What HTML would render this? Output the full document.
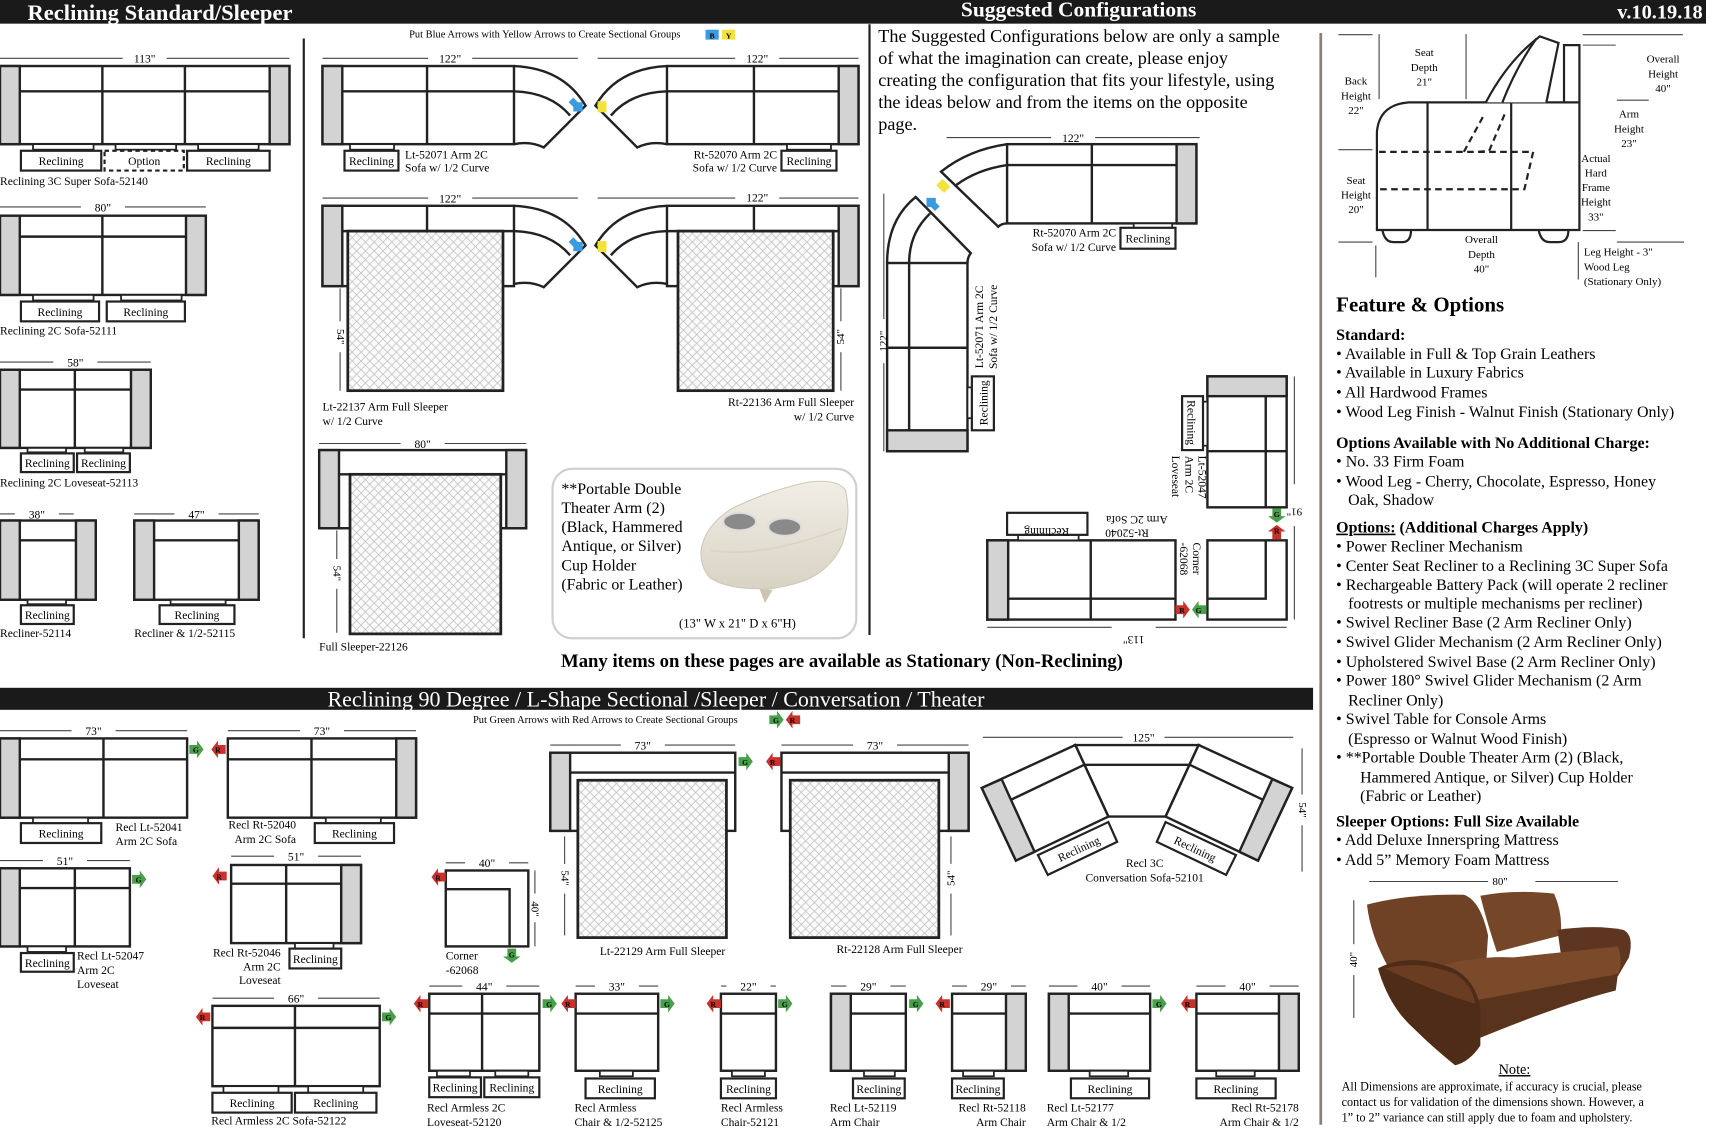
<!DOCTYPE html>
<html><head><meta charset="utf-8"><style>
html,body{margin:0;padding:0;background:#fff;}
svg{display:block;font-family:"Liberation Serif",serif;}
</style></head><body>
<svg id="s" width="1717" height="1128" viewBox="0 0 1560 1025" preserveAspectRatio="none" xmlns="http://www.w3.org/2000/svg">
<defs>
<pattern id="hx" width="8" height="8" patternUnits="userSpaceOnUse">
<rect width="8" height="8" fill="#fbfbfb"/>
<path d="M0,0L8,8M8,0L0,8" stroke="#bdbdbd" stroke-width="0.7"/>
</pattern>
<linearGradient id="cr" x1="0" y1="0" x2="0" y2="1"><stop offset="0" stop-color="#f1eee6"/><stop offset="1" stop-color="#d8d3c4"/></linearGradient>
<linearGradient id="br" x1="0" y1="0" x2="0" y2="1"><stop offset="0" stop-color="#7e4d2c"/><stop offset="1" stop-color="#4e2c17"/></linearGradient>
</defs>
<g id="g"></g>
</svg>
<script>
var o=[];
function R(x,y,w,h,f,sw,ex){o.push('<rect x="'+x+'" y="'+y+'" width="'+w+'" height="'+h+'" fill="'+(f||'none')+'" stroke="#222" stroke-width="'+(sw==null?2.2:sw)+'" '+(ex||'')+'/>');}
function L(a,b,c,d,sw,col,ex){o.push('<line x1="'+a+'" y1="'+b+'" x2="'+c+'" y2="'+d+'" stroke="'+(col||'#222')+'" stroke-width="'+(sw||2.2)+'" '+(ex||'')+'/>');}
function T(x,y,s,sz,an,ex){o.push('<text x="'+x+'" y="'+y+'" font-size="'+(sz||10)+'" text-anchor="'+(an||'start')+'" '+(ex||'')+'>'+s+'</text>');}
function P(d,f,sw,ex){o.push('<path d="'+d+'" fill="'+(f||'none')+'" stroke="#222" stroke-width="'+(sw==null?2.2:sw)+'" '+(ex||'')+'/>');}
function dimH(x1,x2,y,t){var c=(x1+x2)/2;L(x1,y,c-20,y,1,'#444');L(c+20,y,x2,y,1,'#444');T(c,y+4,t,10.5,'middle');}
function lab(x,y,w,h,t,d){R(x,y,w,h,'#fff',2,d?'stroke-dasharray="4,3"':'');T(x+w/2,y+h/2+4,t,10.5,'middle');}
function tab(x,y,w,h){R(x,y,w,h,'#fff',1.6);}
function sofa(x,y,w,h,la,ra,back,divs){R(x,y,w,h,'#fff');var a=18;if(la)R(x,y,a,h,'#d3d3d3');if(ra)R(x+w-a,y,a,h,'#d3d3d3');var ix=la?x+a:x,iw=x+w-(ra?a:0);if(back)L(ix,back,iw,back);(divs||[]).forEach(function(d){L(d,y,d,y+h);});}
function mat(x,y,w,h){R(x,y,w,h,'url(#hx)',2.5);}
function arr(x,y,col,dir,ch){var d;if(dir=='r')d='M'+x+','+(y-4)+'h7v-4l6,8l-6,8v-4h-7z';else if(dir=='l')d='M'+(x+13)+','+(y-4)+'h-7v-4l-6,8l6,8v-4h7z';else if(dir=='d')d='M'+(x-4)+','+y+'v7h-4l8,6l8,-6h-4v-7z';else d='M'+(x-4)+','+(y+13)+'v-7h-4l8,-6l8,6h-4v7z';o.push('<path d="'+d+'" fill="'+col+'"/>');var cx=dir=='r'||dir=='l'?x+6:x,cy=dir=='r'||dir=='l'?y+3:y+8;o.push('<text x="'+cx+'" y="'+cy+'" font-size="7" font-weight="bold" text-anchor="middle">'+ch+'</text>');}

// header
o.push('<rect x="0" y="0" width="1550" height="21.5" fill="#1a1a1a"/>');
T(25,18,'Reclining Standard/Sleeper',20.5,'start','fill="#fff" font-weight="bold"');
T(980,15,'Suggested Configurations',19.5,'middle','fill="#fff" font-weight="bold"');
T(1547,17,'v.10.19.18',18.5,'end','fill="#fff" font-weight="bold"');
T(495,34,'Put Blue Arrows with Yellow Arrows to Create Sectional Groups',9.5,'middle');
o.push('<rect x="641" y="27" width="12" height="9" fill="#3b9be0"/><rect x="656" y="27" width="12" height="9" fill="#f3e23a"/>');
T(647,35,'B',7,'middle','font-weight="bold"');T(662,35,'Y',7,'middle','font-weight="bold"');
L(276,35,276,580,2,'#222');L(790,22,790,577,2,'#222');L(1200,30,1200,1022,2.5,'#8a8078');

// left column
dimH(0,263,53,'113"');sofa(0,60,263,71,1,1,83,[93,168]);
tab(30,131,55,5);tab(105,131,55,5);tab(180,131,55,5);
lab(19,137,73,18,'Reclining');lab(95,137,72,18,'Option',1);lab(170,137,75,18,'Reclining');
T(0,168,'Reclining 3C Super Sofa-52140',10.5);
dimH(0,187,188,'80"');sofa(0,196,187,72,1,1,215,[93]);
tab(30,268,55,5);tab(110,268,55,5);
lab(19,274,71,18,'Reclining');lab(97,274,71,18,'Reclining');
T(0,304,'Reclining 2C Sofa-52111',10.5);
dimH(0,137,329,'58"');sofa(0,336,137,71,1,1,354,[68]);
tab(25,407,35,4);tab(77,407,35,4);
lab(19,412,48,17,'Reclining');lab(70,412,48,17,'Reclining');
T(0,442,'Reclining 2C Loveseat-52113',10.5);
dimH(0,67,467,'38"');sofa(0,473,87,72,1,1,491,[]);tab(25,545,35,4);lab(19,550,48,17,'Reclining');T(0,579,'Recliner-52114',10.5);
dimH(122,235,467,'47"');sofa(122,473,113,72,1,1,491,[]);tab(155,545,50,4);lab(145,550,68,17,'Reclining');T(122,579,'Recliner &amp; 1/2-52115',10.5);

// middle column
function curveL(y){P('M467,'+y+' Q512,'+(y+2)+' 532,'+(y+36)+' L494,'+(y+74)+' Q482,'+(y+68)+' 467,'+(y+71));P('M467,'+(y+23)+' Q500,'+(y+24)+' 518,'+(y+45));}
dimH(293,525,53,'122"');sofa(293,60,174,71,1,0,83,[388]);curveL(60);
tab(318,131,40,5);lab(313,137,49,18,'Reclining');T(368,144,'Lt-52071 Arm 2C',10.5);T(368,156,'Sofa w/ 1/2 Curve',10.5);
o.push('<g transform="translate(1073,0) scale(-1,1)">');sofa(293,60,174,71,1,0,83,[388]);curveL(60);o.push('</g>');
L(543,53,668,53,1,'#444');L(708,53,780,53,1,'#444');T(688,57,'122"',10.5,'middle');
tab(715,131,40,5);lab(710,137,50,18,'Reclining');T(706,144,'Rt-52070 Arm 2C',10.5,'end');T(706,156,'Sofa w/ 1/2 Curve',10.5,'end');
function ba(x,y){o.push('<path d="M'+x+','+y+'l6,-6l6,6l-3,3l0,6h-6l0,-6z" fill="#3b9be0" transform="rotate(135 '+(x+6)+' '+(y+3)+')"/>');}
function ya(x,y){o.push('<rect x="'+x+'" y="'+y+'" width="8" height="10" fill="#f3e23a"/>');}
ba(517,92);ya(543,92);
dimH(293,525,180,'122"');sofa(293,187,174,73,1,0,210,[388]);curveL(187);mat(316,210,141,145);
L(309,262,309,292,1,'#444');L(309,320,309,355,1,'#444');T(309,306,'54"',10,'middle','transform="rotate(90 309 306)" dy="3"');
T(293,373,'Lt-22137 Arm Full Sleeper',10.5);T(293,386,'w/ 1/2 Curve',10.5);
o.push('<g transform="translate(1073,0) scale(-1,1)">');sofa(293,187,174,73,1,0,210,[388]);curveL(187);mat(316,210,141,145);o.push('</g>');
L(543,180,668,180,1,'#444');L(708,180,780,180,1,'#444');T(688,183,'122"',10.5,'middle');ba(517,219);ya(543,219);
L(764,262,764,292,1,'#444');L(764,320,764,355,1,'#444');T(764,306,'54"',10,'middle','transform="rotate(-90 764 306)" dy="3"');
T(776,369,'Rt-22136 Arm Full Sleeper',10.5,'end');T(776,382,'w/ 1/2 Curve',10.5,'end');
dimH(290,478,403,'80"');sofa(290,409,188,71,1,1,431,[]);mat(318,431,137,145);
L(306,482,306,508,1,'#444');L(306,535,306,575,1,'#444');T(306,521,'54"',10,'middle','transform="rotate(90 306 521)" dy="3"');
T(290,591,'Full Sleeper-22126',10.5);
// theater arm
o.push('<rect x="502" y="426" width="276" height="154" rx="18" fill="#fff" stroke="#cfcfcf" stroke-width="2"/>');
['**Portable Double','Theater Arm (2)','(Black, Hammered','Antique, or Silver)','Cup Holder','(Fabric or Leather)'].forEach(function(t,i){T(510,449+i*17.3,t,14.5);});
T(670,570,'(13" W x 21" D x 6"H)',11.5,'middle');
o.push('<path d="M637,500 Q640,478 665,462 Q700,445 735,438 Q760,435 768,445 Q774,470 765,495 Q755,518 730,528 Q705,536 690,535 Q660,535 645,525 Q636,515 637,500 Z" fill="url(#cr)" stroke="#cfc9b8"/>');
o.push('<path d="M690,535 L695,548 L702,536" fill="#cbc5b3"/>');
o.push('<path d="M645,500 Q690,508 765,480" fill="none" stroke="#d9d4c6" stroke-width="1.5"/>');
o.push('<ellipse cx="672" cy="474" rx="15" ry="8" fill="#8a8a8a" stroke="#ddd" stroke-width="2"/><ellipse cx="713" cy="479" rx="15" ry="8" fill="#8a8a8a" stroke="#ddd" stroke-width="2"/>');

['The Suggested Configurations below are only a sample','of what the imagination can create, please enjoy','creating the configuration that fits your lifestyle, using','the ideas below and from the items on the opposite','page.'].forEach(function(t,i){T(798,38+i*20,t,16.5);});
dimH(860,1090,125,'122"');
sofa(915,131,172,72,0,1,150,[992]);
P('M915,131 Q880,136 855,156 L907,206 Q910,203 915,203');P('M915,150 Q888,154 869,168');
tab(1030,203,35,5);lab(1018,207,50,19,'Reclining');T(1014,215,'Rt-52070 Arm 2C',10.5,'end');T(1014,228,'Sofa w/ 1/2 Curve',10.5,'end');
R(806,239,73,171,'#fff');R(806,391,73,19,'#d3d3d3');L(826,239,826,391);L(806,316,879,316);
P('M806,239 Q806,200 832,179 L882,230 Q879,234 879,239');P('M826,239 Q826,212 845,194');
o.push('<path d="M840,184l6,-6l6,6l-3,3v5h-6v-5z" fill="#3b9be0" transform="rotate(-45 846 184)"/>');o.push('<rect x="853" y="164" width="8" height="10" fill="#f3e23a" transform="rotate(-45 857 169)"/>');
tab(879,352,4,28);R(883,342,20,49,'#fff',2);T(893,366,'Reclining',10.5,'middle','transform="rotate(-90 893 366)" dy="4"');
T(893,297,'Lt-52071 Arm 2C',10.5,'middle','transform="rotate(-90 893 297)"');T(906,297,'Sofa w/ 1/2 Curve',10.5,'middle','transform="rotate(-90 906 297)"');
L(803,176,803,290,1,'#444');L(803,330,803,410,1,'#444');T(803,310,'122"',10,'middle','transform="rotate(-90 803 310)" dy="3"');
R(1097,342,72,119,'#fff');R(1097,342,72,18,'#d3d3d3');L(1150,360,1150,461);L(1097,410,1169,410);
tab(1093,365,4,40);R(1074,360,19,49,'#fff',2);T(1083,384,'Reclining',10.5,'middle','transform="rotate(90 1083 384)" dy="4"');
T(1089,414,'Lt-52047',10.5,'start','transform="rotate(90 1089 414)"');T(1077,414,'Arm 2C',10.5,'start','transform="rotate(90 1077 414)"');T(1065,414,'Loveseat',10.5,'start','transform="rotate(90 1065 414)"');
R(1097,491,72,72,'#fff');P('M1150,491 L1150,544 L1097,544');
R(897,491,171,72,'#fff');R(897,491,19,72,'#d3d3d3');L(916,544,1068,544);L(991,491,991,563);
tab(925,486,55,5);lab(915,466,73,20,'');T(951,476,'Reclining',10.5,'middle','transform="rotate(180 951 476)" dy="-4"');
T(1024,481,'Rt-52040',10.5,'middle','transform="rotate(180 1024 481)"');T(1033,469,'Arm 2C Sofa',10.5,'middle','transform="rotate(180 1033 469)"');
T(1084,493,'Corner',10.5,'start','transform="rotate(90 1084 493)"');T(1072,493,'-62068',10.5,'start','transform="rotate(90 1072 493)"');
arr(1160,462,'#4aa04a','d','G');arr(1160,477,'#c8322a','u','R');arr(1068,554,'#c8322a','r','R');arr(1083,554,'#4aa04a','l','G');
L(1176,342,1176,440,1,'#444');L(1176,478,1176,563,1,'#444');T(1176,459,'91"',10,'middle','transform="rotate(180 1176 459)" dy="-3"');
L(897,570,1010,570,1,'#444');L(1050,570,1169,570,1,'#444');T(1030,566,'113"',10.5,'middle','transform="rotate(180 1030 570)" dy="-4"');

T(765,606,'Many items on these pages are available as Stationary (Non-Reclining)',17,'middle','font-weight="bold"');
o.push('<rect x="0" y="625" width="1193" height="20" fill="#1a1a1a"/>');
T(596,642,'Reclining 90 Degree / L-Shape Sectional /Sleeper / Conversation / Theater',20,'middle','fill="#fff"');
T(550,657,'Put Green Arrows with Red Arrows to Create Sectional Groups',9.5,'middle');
arr(699,654,'#4aa04a','r','G');arr(714,654,'#c8322a','l','R');

dimH(0,170,664,'73"');sofa(0,671,170,72,1,0,690,[94]);arr(172,681,'#4aa04a','r','G');tab(30,743,50,5);lab(19,748,73,18,'Reclining');T(105,755,'Recl Lt-52041',10.5);T(105,768,'Arm 2C Sofa',10.5);
dimH(207,378,664,'73"');sofa(207,671,171,72,0,1,690,[283]);arr(192,681,'#c8322a','l','R');tab(296,743,50,5);lab(286,748,72,18,'Reclining');T(269,753,'Recl Rt-52040',10.5,'end');T(269,766,'Arm 2C Sofa',10.5,'end');
dimH(0,118,782,'51"');sofa(0,789,118,71,1,0,807,[68]);arr(120,799,'#4aa04a','r','G');tab(25,860,35,5);lab(19,866,48,17,'Reclining');T(70,872,'Recl Lt-52047',10.5);T(70,885,'Arm 2C',10.5);T(70,898,'Loveseat',10.5);
dimH(210,328,778,'51"');sofa(210,786,118,71,0,1,803,[260]);arr(193,796,'#c8322a','l','R');tab(268,857,35,5);lab(263,862,47,18,'Reclining');T(255,869,'Recl Rt-52046',10.5,'end');T(255,882,'Arm 2C',10.5,'end');T(255,894,'Loveseat',10.5,'end');
dimH(405,480,784,'40"');R(405,791,75,69,'#fff');P('M463,860 L463,808 L405,808');arr(392,797,'#c8322a','l','R');arr(465,862,'#4aa04a','d','G');
L(486,791,486,812,1,'#444');L(486,838,486,860,1,'#444');T(486,826,'40"',10,'middle','transform="rotate(90 486 826)" dy="3"');T(405,872,'Corner',10.5);T(405,885,'-62068',10.5);
dimH(500,668,677,'73"');sofa(500,684,168,71,1,0,702,[]);mat(525,709,135,143);arr(671,692,'#4aa04a','r','G');
L(513,760,513,785,1,'#444');L(513,812,513,850,1,'#444');T(513,798,'54"',10,'middle','transform="rotate(90 513 798)" dy="3"');T(545,868,'Lt-22129 Arm Full Sleeper',10.5);
dimH(710,880,677,'73"');sofa(710,684,170,71,0,1,702,[]);mat(718,709,135,143);arr(696,692,'#c8322a','l','R');
L(864,760,864,785,1,'#444');L(864,812,864,850,1,'#444');T(864,798,'54"',10,'middle','transform="rotate(-90 864 798)" dy="3"');T(760,866,'Rt-22128 Arm Full Sleeper',10.5);
L(893,670,1020,670,1,'#444');L(1058,670,1175,670,1,'#444');T(1039,674,'125"',10.5,'middle');
P('M977,677 L1089,677 L1059,742 L1007,742 Z','#fff');L(985,695,1081,695);
P('M977,677 L892,716 L923,782 L1007,742 Z','#fff');P('M892,716 L910,708 L940,774 L923,782 Z','#d3d3d3');L(918,727,985,695);
P('M1089,677 L1174,716 L1143,782 L1059,742 Z','#fff');P('M1174,716 L1156,708 L1126,774 L1143,782 Z','#d3d3d3');L(1148,727,1081,695);
P('M943,777 L1007,747 L1015,765 L952,795 Z','#fff',2);T(980,775,'Reclining',10.5,'middle','transform="rotate(-25 980 771)"');
P('M1123,777 L1059,747 L1051,765 L1114,795 Z','#fff',2);T(1086,775,'Reclining',10.5,'middle','transform="rotate(25 1086 771)"');
T(1040,788,'Recl 3C',10.5,'middle');T(1040,801,'Conversation Sofa-52101',10.5,'middle');
L(1183,680,1183,722,1,'#444');L(1183,750,1183,792,1,'#444');T(1183,736,'54"',10,'middle','transform="rotate(90 1183 736)" dy="3"');
dimH(193,345,907,'66"');sofa(193,914,152,73,0,0,934,[268]);arr(178,924,'#c8322a','l','R');arr(347,924,'#4aa04a','r','G');tab(203,987,50,6);tab(280,987,50,6);lab(193,993,72,18,'Reclining');lab(268,993,74,18,'Reclining');T(192,1022,'Recl Armless 2C Sofa-52122',10.5);
dimH(390,490,896,'44"');sofa(390,903,100,70,0,0,921,[438]);arr(376,912,'#c8322a','l','R');arr(493,912,'#4aa04a','r','G');tab(397,973,30,5);tab(450,973,30,5);lab(390,979,47,18,'Reclining');lab(440,979,50,18,'Reclining');T(388,1010,'Recl Armless 2C',10.5);T(388,1023,'Loveseat-52120',10.5);
dimH(523,598,896,'33"');sofa(523,903,75,70,0,0,921,[]);arr(510,912,'#c8322a','l','R');arr(600,912,'#4aa04a','r','G');tab(545,973,30,5);lab(532,980,63,18,'Reclining');T(522,1010,'Recl Armless',10.5);T(522,1023,'Chair &amp; 1/2-52125',10.5);
dimH(655,705,896,'22"');sofa(655,903,50,70,0,0,921,[]);arr(642,912,'#c8322a','l','R');arr(707,912,'#4aa04a','r','G');tab(665,973,30,5);lab(655,980,50,18,'Reclining');T(655,1010,'Recl Armless',10.5);T(655,1023,'Chair-52121',10.5);
dimH(755,823,896,'29"');sofa(755,903,68,70,1,0,921,[]);arr(826,912,'#4aa04a','r','G');tab(785,973,28,5);lab(775,980,47,18,'Reclining');T(754,1010,'Recl Lt-52119',10.5);T(754,1023,'Arm Chair',10.5);
dimH(865,932,896,'29"');sofa(865,903,67,70,0,1,921,[]);arr(850,912,'#c8322a','l','R');tab(875,973,28,5);lab(865,980,47,18,'Reclining');T(932,1010,'Recl Rt-52118',10.5,'end');T(932,1023,'Arm Chair',10.5,'end');
dimH(953,1045,896,'40"');sofa(953,903,92,70,1,0,921,[]);arr(1047,912,'#4aa04a','r','G');tab(990,973,35,5);lab(973,980,71,18,'Reclining');T(951,1010,'Recl Lt-52177',10.5);T(951,1023,'Arm Chair &amp; 1/2',10.5);
dimH(1087,1180,896,'40"');sofa(1087,903,93,70,0,1,921,[]);arr(1073,912,'#c8322a','l','R');tab(1105,973,35,5);lab(1087,980,72,18,'Reclining');T(1180,1010,'Recl Rt-52178',10.5,'end');T(1180,1023,'Arm Chair &amp; 1/2',10.5,'end');

// profile
P('M1251,209 L1251,120 Q1253,95 1280,93 L1435,93 L1435,209 Z','#fff',2);
L(1297,93,1297,209,2);L(1373,93,1373,209,2);
P('M1350,93 Q1370,55 1399,33 L1416,39 L1405,93','#fff',2);P('M1365,93 Q1378,60 1396,35',null,2);
P('M1421,93 L1421,41 L1435,41 L1435,93',null,2);
P('M1256,209 Q1258,220 1266,220 L1274,220 Q1282,220 1282,209',null,2);P('M1398,209 Q1400,220 1408,220 L1416,220 Q1425,220 1425,209',null,2);
P('M1253,138 L1393,138 L1385,172 L1253,172',null,2,'stroke-dasharray="6,4"');
P('M1343,138 L1353,137 L1367,104 M1330,138 L1348,105',null,2,'stroke-dasharray="6,4"');
[[1216,31.5,1247,31.5],[1216,136,1247,136],[1216,220,1247,220],[1438,31.5,1529,31.5],[1438,41,1468,41],[1469,91,1498,91],[1438,209.5,1468,209.5],[1469,220,1530,220]].forEach(function(a){L(a[0],a[1],a[2],a[3],1,'#444');});
[[1253,31,1253,90],[1332,31,1332,90],[1250,223,1250,252],[1434,220,1434,254]].forEach(function(a){L(a[0],a[1],a[2],a[3],1,'#444');});
function ml(x,y,arr){arr.forEach(function(t,i){T(x,y+i*13.3,t,10,'middle');});}
ml(1232,77,['Back','Height','22"']);ml(1294,51,['Seat','Depth','21"']);ml(1511,57,['Overall','Height','40"']);ml(1480,107,['Arm','Height','23"']);
ml(1232,167,['Seat','Height','20"']);ml(1450,147,['Actual','Hard','Frame','Height','33"']);ml(1346,221,['Overall','Depth','40"']);
T(1439,232,'Leg Height - 3"',10);T(1439,246,'Wood Leg',10);T(1439,259,'(Stationary Only)',10);

T(1214,283,'Feature &amp; Options',19,'start','font-weight="bold"');
var F=[[309,'Standard:',1],[326,'• Available in Full &amp; Top Grain Leathers'],[343,'• Available in Luxury Fabrics'],[361,'• All Hardwood Frames'],[379,'• Wood Leg Finish - Walnut Finish (Stationary Only)'],
[407,'Options Available with No Additional Charge:',1],[424,'• No. 33 Firm Foam'],[442,'• Wood Leg - Cherry, Chocolate, Espresso, Honey'],[459,'   Oak, Shadow'],
[484,'<tspan text-decoration="underline">Options:</tspan> (Additional Charges Apply)',1],[501,'• Power Recliner Mechanism'],[519,'• Center Seat Recliner to a Reclining 3C Super Sofa'],[536,'• Rechargeable Battery Pack (will operate 2 recliner'],[553,'   footrests or multiple mechanisms per recliner)'],[570,'• Swivel Recliner Base (2 Arm Recliner Only)'],[588,'• Swivel Glider Mechanism (2 Arm Recliner Only)'],[606,'• Upholstered Swivel Base (2 Arm Recliner Only)'],[623,'• Power 180° Swivel Glider Mechanism (2 Arm'],[641,'   Recliner Only)'],[658,'• Swivel Table for Console Arms'],[676,'   (Espresso or Walnut Wood Finish)'],[693,'• **Portable Double Theater Arm (2) (Black,'],[711,'      Hammered Antique, or Silver) Cup Holder'],[728,'      (Fabric or Leather)'],
[751,'Sleeper Options: Full Size Available',1],[768,'• Add Deluxe Innerspring Mattress'],[786,'• Add 5” Memory Foam Mattress']];
F.forEach(function(f){T(1214,f[0],f[1],14.5,'start',(f[2]?'font-weight="bold"':'')+' xml:space="preserve"');});
// couch photo
L(1244,801,1352,801,1,'#444');L(1395,801,1470,801,1,'#444');T(1363,804,'80"',10,'middle');
L(1230,818,1230,858,1,'#444');L(1230,886,1230,925,1,'#444');T(1230,872,'40"',10,'middle','transform="rotate(-90 1230 872)" dy="3"');
// back cushions
o.push('<path d="M1242,822 Q1280,812 1330,813 Q1345,818 1352,850 L1350,880 L1262,880 Q1245,850 1242,822 Z" fill="#6f4125"/>');
o.push('<path d="M1345,814 Q1375,808 1412,812 Q1420,830 1418,850 L1360,865 Q1350,835 1345,814 Z" fill="#764628"/>');
// right arm
o.push('<path d="M1415,845 Q1450,840 1475,845 Q1485,850 1480,870 L1470,887 L1420,880 Z" fill="#5e3520"/>');
// seat cushions
o.push('<path d="M1300,880 Q1340,868 1375,870 L1470,860 Q1475,875 1470,885 L1370,905 L1335,910 Q1310,900 1300,880 Z" fill="#7a4a2a"/>');
// front panel
o.push('<path d="M1335,910 L1470,885 L1468,900 Q1420,912 1340,945 Z" fill="#5a331c"/>');
// left arm
o.push('<path d="M1252,880 Q1280,865 1320,880 Q1340,890 1345,915 L1345,950 Q1335,965 1322,968 Q1300,950 1285,935 Q1262,915 1252,880 Z" fill="#4f2c17"/>');
o.push('<path d="M1258,880 Q1290,872 1322,885 Q1338,895 1340,912 Q1300,900 1258,880 Z" fill="#6a3d22"/>');
T(1376,976,'Note:',13,'middle','text-decoration="underline"');
T(1219,991,'All Dimensions are approximate, if accuracy is crucial, please',11);T(1219,1005,'contact us for validation of the dimensions shown. However, a',11);T(1219,1019,'1” to 2” variance can still apply due to foam and upholstery.',11);
document.getElementById('g').innerHTML=o.join('');
</script>
</body></html>
